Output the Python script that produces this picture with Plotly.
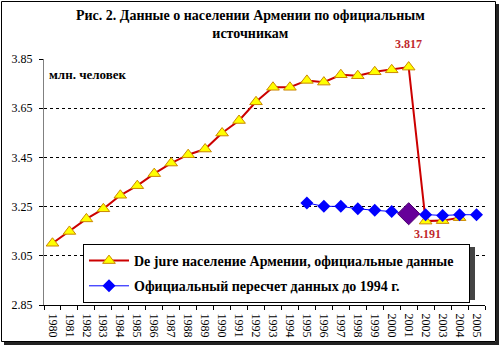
import plotly.graph_objects as go

# Years on the category axis
years = [str(y) for y in range(1980, 2006)]

# De jure population of Armenia, official data (mln. people)
dejure = [3.101, 3.149, 3.200, 3.241, 3.296, 3.335, 3.384, 3.427, 3.461, 3.484,
          3.549, 3.600, 3.676, 3.735, 3.735, 3.763, 3.756, 3.786, 3.782, 3.798,
          3.806, 3.817, 3.191, 3.193, 3.205, None]

# Official recount of data prior to 1994 (1995-2005)
recount_years = [str(y) for y in range(1995, 2006)]
recount = [3.265, 3.251, 3.251, 3.241, 3.235, 3.230, 3.221, 3.217, 3.214, 3.217, 3.217]

# Highlighted point of the recount series
highlight_year = "2001"
highlight_value = recount[recount_years.index(highlight_year)]

peak_idx = years.index("2001")
low_idx = years.index("2002")

y_ticks = [2.85, 3.05, 3.25, 3.45, 3.65, 3.85]

SERIF = "Liberation Serif"
W, H = 500, 346
ML, MR, MT, MB = 44, 15, 59, 41
PW, PH = W - ML - MR, H - MT - MB


def px(x):
    return (x - ML) / PW


def py(y):
    return (H - MB - y) / PH


fig = go.Figure()

fig.add_trace(go.Scatter(
    x=years, y=dejure, mode="lines+markers",
    name="De jure население Армении, официальные данные\u00a0\u00a0\u00a0",
    line=dict(color="#CC0000", width=2),
    marker=dict(symbol="triangle-up", size=11, color="#FFFF00",
                line=dict(color="#CC8800", width=1)),
    legendgroup="a", connectgaps=False,
))

fig.add_trace(go.Scatter(
    x=recount_years, y=recount, mode="lines+markers",
    name="Официальный пересчет данных до 1994 г.",
    line=dict(color="#0000FF", width=1),
    marker=dict(symbol="diamond", size=10, color="#0000FF"),
    legendgroup="b",
))

fig.add_trace(go.Scatter(
    x=[highlight_year], y=[highlight_value], mode="markers",
    marker=dict(symbol="diamond", size=17, color="#660099",
                line=dict(color="#4B0070", width=1)),
    showlegend=False, hoverinfo="skip",
))

shapes = [
    # outer frame
    dict(type="rect", xref="paper", yref="paper",
         x0=px(1.5), x1=px(495.5), y0=py(341.5), y1=py(1.5),
         line=dict(color="#000000", width=1), layer="below"),
    # frame shadow
    dict(type="line", xref="paper", yref="paper",
         x0=px(497.5), x1=px(497.5), y0=py(4), y1=py(343.5),
         line=dict(color="#222222", width=3), layer="below"),
    dict(type="line", xref="paper", yref="paper",
         x0=px(4), x1=px(499), y0=py(343.5), y1=py(343.5),
         line=dict(color="#222222", width=3), layer="below"),
    # legend shadow
    dict(type="rect", xref="paper", yref="paper",
         x0=px(86), x1=px(475), y0=py(300), y1=py(247),
         fillcolor="#444444", line=dict(width=0), layer="above"),
]

red_font = dict(family=SERIF, size=12, color="#C0282D")
annotations = [
    dict(text="<b>Рис. 2. Данные о населении Армении по официальным<br>источникам</b>",
         xref="paper", yref="paper", x=px(250), y=py(6),
         xanchor="center", yanchor="top", showarrow=False,
         font=dict(family=SERIF, size=14, color="#000000")),
    dict(text="<b>млн. человек</b>", xref="paper", yref="paper",
         x=px(47), y=py(74), xanchor="left", yanchor="middle",
         showarrow=False, font=dict(family=SERIF, size=13, color="#000000")),
    dict(text="<b>%.3f</b>" % dejure[peak_idx], xref="x", yref="y",
         x=peak_idx, y=dejure[peak_idx],
         xanchor="center", yanchor="bottom", yshift=14,
         showarrow=False, font=red_font),
    dict(text="<b>%.3f</b>" % dejure[low_idx], xref="x", yref="y",
         x=low_idx, y=dejure[low_idx],
         xanchor="center", yanchor="top", yshift=-4, xshift=2,
         showarrow=False, font=red_font),
]

fig.update_layout(
    width=W, height=H,
    margin=dict(l=ML, r=MR, t=MT, b=MB, autoexpand=False),
    paper_bgcolor="#FFFFFF", plot_bgcolor="#FFFFFF",
    showlegend=True,
    legend=dict(
        x=px(83), y=py(244), xanchor="left", yanchor="top",
        bgcolor="#FFFFFF", bordercolor="#000000", borderwidth=1,
        font=dict(family=SERIF, size=14, color="#000000", weight="bold"),
        traceorder="grouped", tracegroupgap=4, itemwidth=40,
    ),
    xaxis=dict(
        type="category", categoryorder="array", categoryarray=years,
        range=[-0.5, len(years) - 0.5], automargin=False,
        showgrid=False, showline=True, linecolor="#000000", linewidth=1,
        ticks="outside", tickson="boundaries", ticklen=4, tickcolor="#000000",
        tickangle=90, ticklabelstandoff=5,
        tickfont=dict(family=SERIF, size=12, color="#000000"),
    ),
    yaxis=dict(
        range=[2.85, 3.85], tickvals=y_ticks, automargin=False,
        ticktext=["%.2f" % v for v in y_ticks],
        showgrid=True, gridcolor="#000000", gridwidth=1, griddash="dot",
        zeroline=False, showline=True, linecolor="#808080", linewidth=1,
        ticks="outside", ticklen=4, tickcolor="#000000",
        tickfont=dict(family=SERIF, size=12, color="#000000"),
        ticklabelstandoff=4,
    ),
    shapes=shapes,
    annotations=annotations,
)

fig.write_html("out.html")
